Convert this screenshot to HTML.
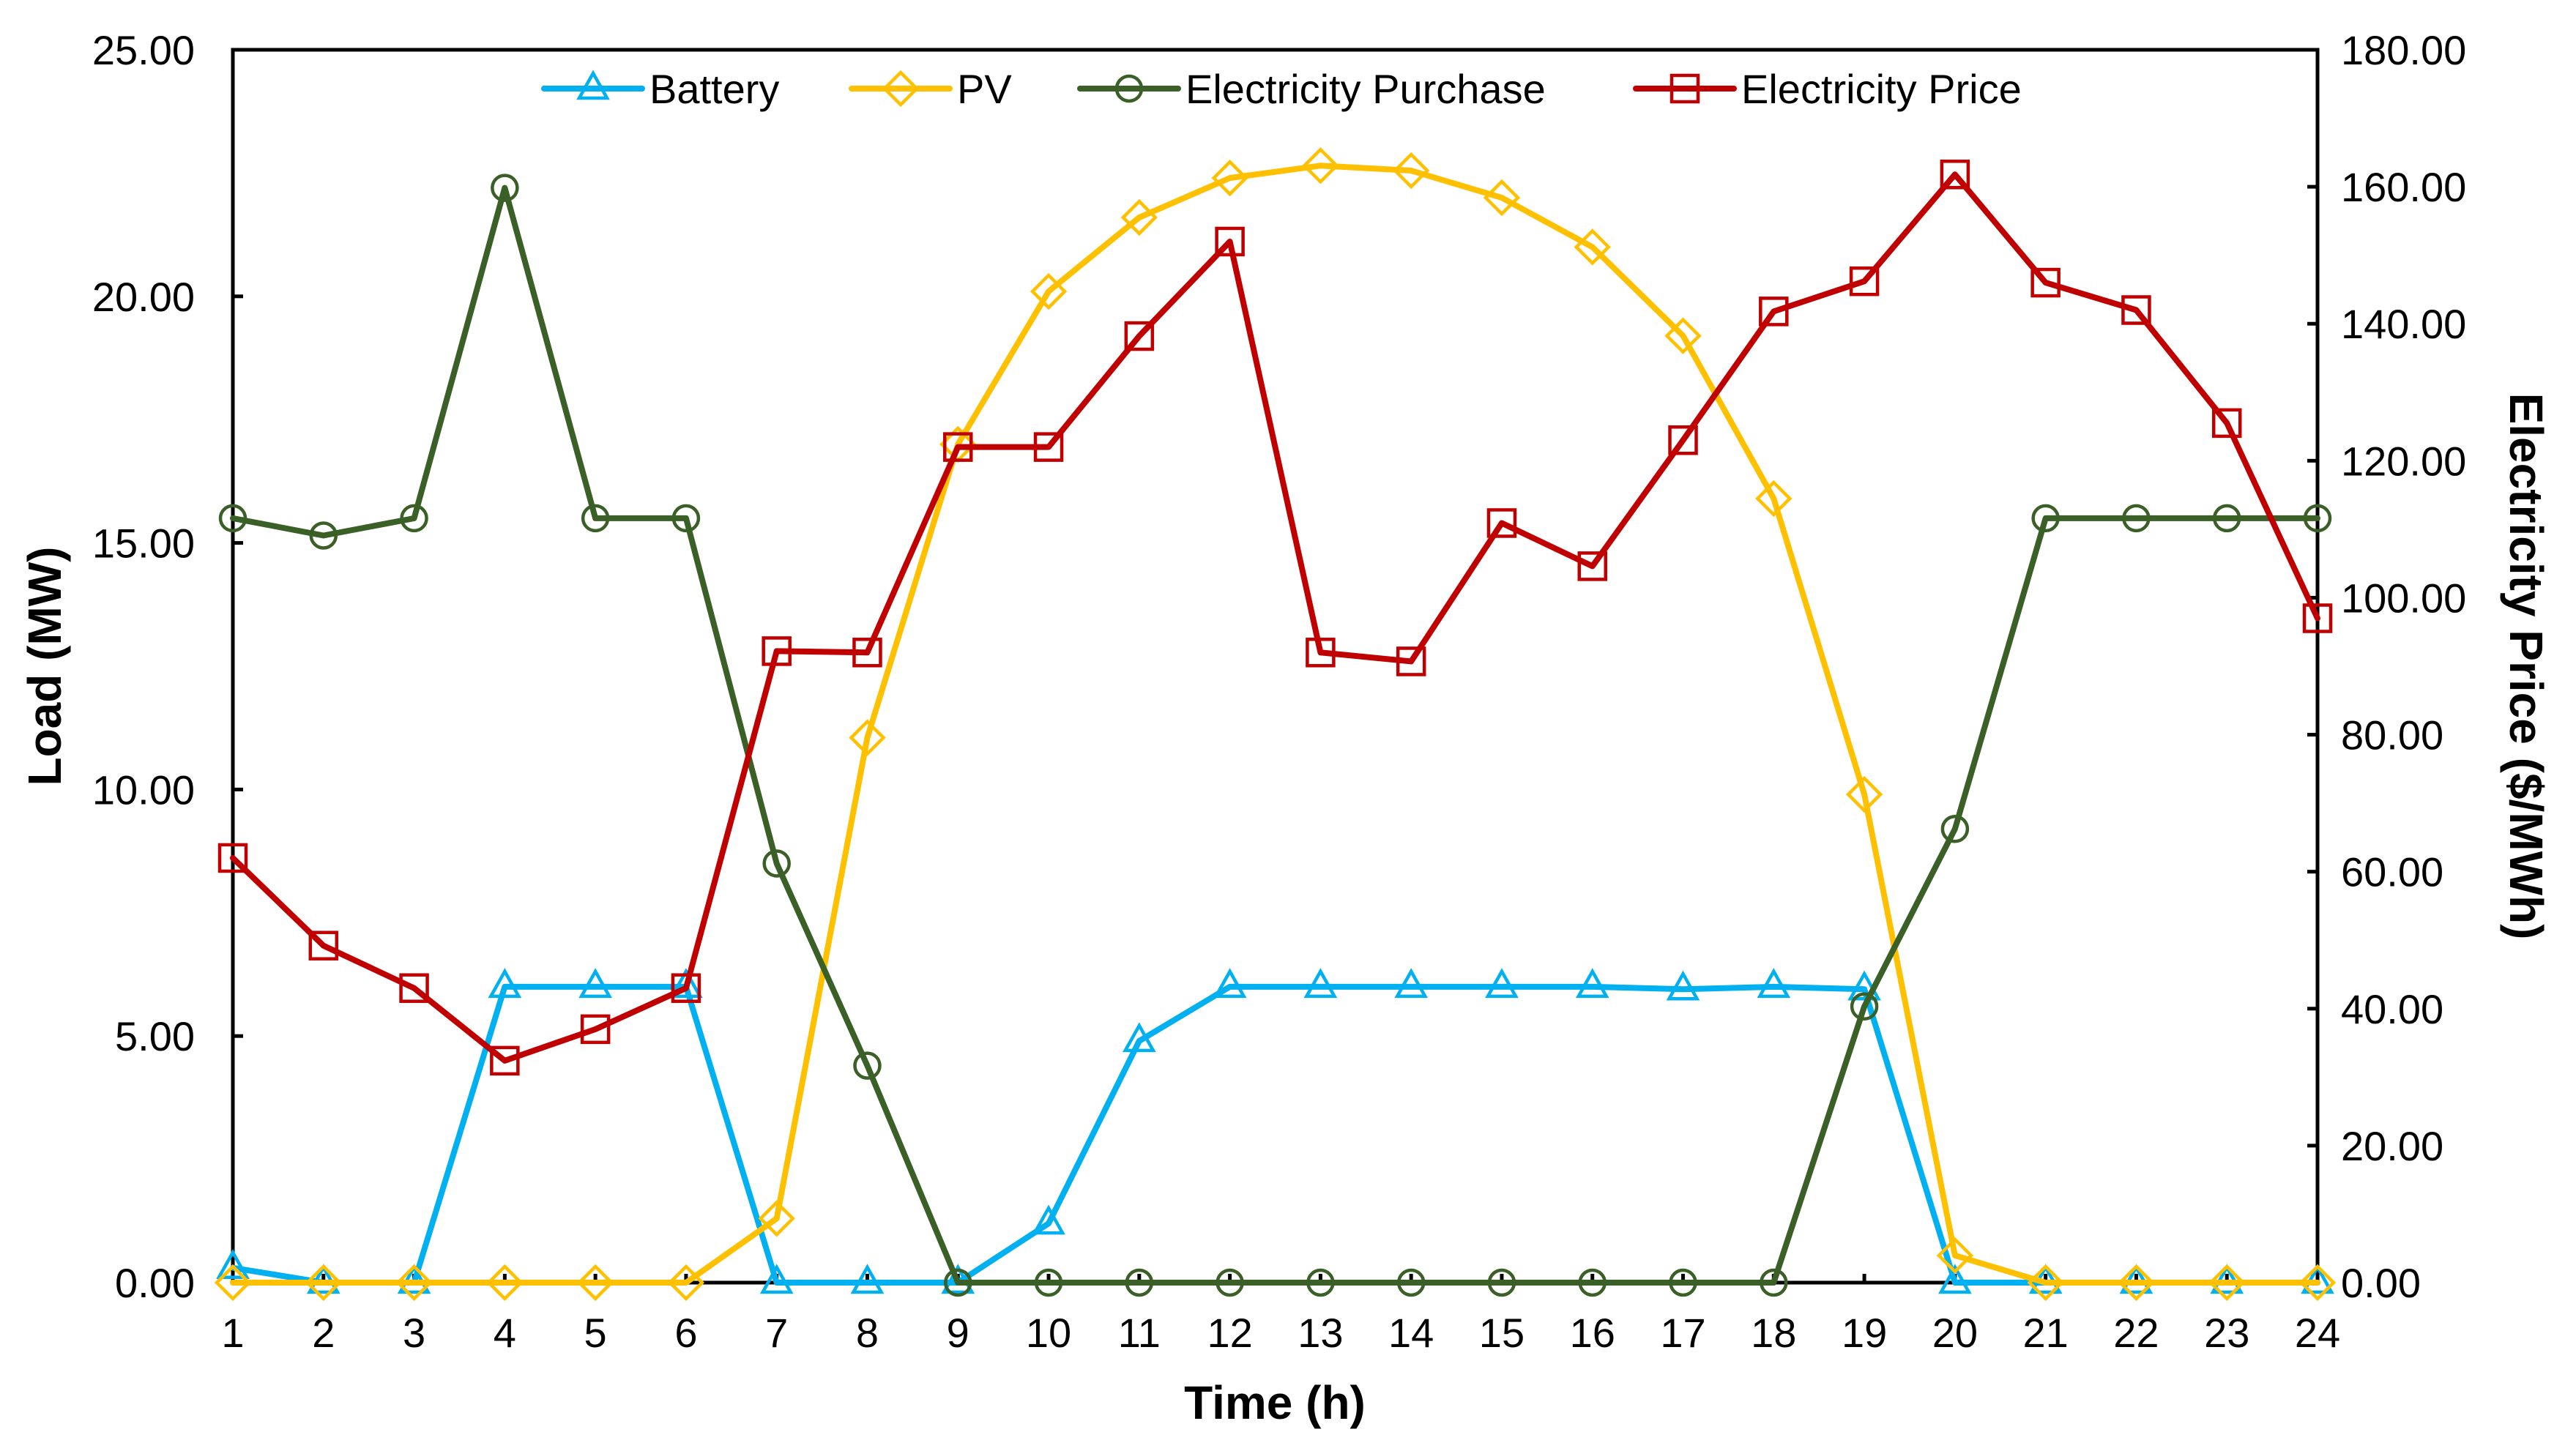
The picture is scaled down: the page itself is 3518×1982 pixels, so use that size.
<!DOCTYPE html>
<html><head><meta charset="utf-8"><style>
html,body{margin:0;padding:0;background:#fff}
svg{display:block}
text{font-family:"Liberation Sans",Arial,sans-serif}
</style></head><body>
<svg id="chart" width="3518" height="1982" viewBox="0 0 3518 1982" xmlns="http://www.w3.org/2000/svg"></svg>
<script>
const hours=[1,2,3,4,5,6,7,8,9,10,11,12,13,14,15,16,17,18,19,20,21,22,23,24];
const battery=[0.3,0,0,6,6,6,0,0,0,1.2,4.9,6,6,6,6,6,5.95,6,5.95,0,0,0,0,0];
const pv=[0,0,0,0,0,0,1.3,11.05,17,20.1,21.6,22.4,22.65,22.55,22.0,21.0,19.2,15.9,9.9,0.55,0,0,0,0];
const purchase=[15.5,15.15,15.5,22.2,15.5,15.5,8.5,4.4,0,0,0,0,0,0,0,0,0,0,5.6,9.2,15.5,15.5,15.5,15.5];
const price=[62,49.2,43,32.4,37,43,92.2,92,122,122,138.2,152,92,90.7,110.9,104.6,123,141.8,146.2,161.8,146,142,125.5,97];
const leftTicks=[0,5,10,15,20,25];
const rightTicks=[0,20,40,60,80,100,120,140,160,180];

const L=318,R=3165,T=68,B=1752;
const svg=document.getElementById('chart');
const NS='http://www.w3.org/2000/svg';
function el(tag,attrs,parent){const e=document.createElementNS(NS,tag);for(const k in attrs)e.setAttribute(k,attrs[k]);(parent||svg).appendChild(e);return e;}
const xs=h=>L+(h-1)*(R-L)/23;
const yl=v=>B-v/25*(B-T);
const yr=v=>B-v/180*(B-T);

const frame=el('path',{d:`M${L},${T}H${R}V${B}H${L}Z`,fill:'none',stroke:'#000','stroke-width':5});


leftTicks.forEach(v=>{
  const t=el('line',{x1:L,x2:L+14,y1:yl(v),y2:yl(v),stroke:'#000','stroke-width':5});
  
  
  const tx=el('text',{x:266,y:yl(v)+20,'text-anchor':'end','font-size':56,fill:'#000'});
  tx.textContent=v.toFixed(2);
  
  
});
rightTicks.forEach(v=>{
  const t=el('line',{x1:R-14,x2:R,y1:yr(v),y2:yr(v),stroke:'#000','stroke-width':5});
  
  
  const tx=el('text',{x:3197,y:yr(v)+20,'text-anchor':'start','font-size':56,fill:'#000'});
  tx.textContent=v.toFixed(2);
  
  
});
hours.forEach(h=>{
  const t=el('line',{x1:xs(h),x2:xs(h),y1:B-12,y2:B,stroke:'#000','stroke-width':5});
  
  
  const tx=el('text',{x:xs(h),y:1840,'text-anchor':'middle','font-size':56,fill:'#000'});
  tx.textContent=h;
  
  
});
let t1=el('text',{x:1741,y:1938,'text-anchor':'middle','font-size':64,'font-weight':'bold'});
t1.textContent='Time (h)';


let t2=el('text',{x:0,y:0,'text-anchor':'middle','font-size':64,'font-weight':'bold',transform:'translate(83,910) rotate(-90)'});
t2.textContent='Load (MW)';


let t3=el('text',{x:0,y:0,'text-anchor':'middle','font-size':64,'font-weight':'bold',transform:'translate(3428,910) rotate(90)'});
t3.textContent='Electricity Price ($/MWh)';



function marker(type,x,y,color,g){
  if(type==='tri') return el('path',{d:`M${x},${y-21}L${x+19},${y+13}L${x-19},${y+13}Z`,fill:'none',stroke:color,'stroke-width':4.5},g);
  if(type==='dia') return el('path',{d:`M${x},${y-22}L${x+22},${y}L${x},${y+22}L${x-22},${y}Z`,fill:'none',stroke:color,'stroke-width':4.5},g);
  if(type==='cir') return el('circle',{cx:x,cy:y,r:17,fill:'none',stroke:color,'stroke-width':4.5},g);
  return el('rect',{x:x-18,y:y-18,width:36,height:36,fill:'none',stroke:color,'stroke-width':4.5},g);
}
const series=[
  {name:'battery',vals:battery,color:'#00B0F0',m:'tri',ax:yl},
  {name:'pv',vals:pv,color:'#FFC000',m:'dia',ax:yl},
  {name:'electricity-purchase',vals:purchase,color:'#3A5F27',m:'cir',ax:yl},
  {name:'electricity-price',vals:price,color:'#C00000',m:'sq',ax:yr}
];
series.forEach(s=>{
  const g=el('g',{});
  
  
  const pts=s.vals.map((v,i)=>xs(hours[i])+','+s.ax(v)).join(' ');
  const pl=el('polyline',{points:pts,fill:'none',stroke:s.color,'stroke-width':8,'stroke-linejoin':'round','stroke-linecap':'round'},g);
  
  
  s.vals.forEach((v,i)=>{
    const m=marker(s.m,xs(hours[i]),s.ax(v),s.color,g);
    
    
  });
});
const leg=[['Battery',743,'tri','#00B0F0'],['PV',1163,'dia','#FFC000'],['Electricity Purchase',1475,'cir','#3A5F27'],['Electricity Price',2234,'sq','#C00000']];
leg.forEach(l=>{
  const g=el('g',{});
  
  
  el('line',{x1:l[1],x2:l[1]+134,y1:121,y2:121,stroke:l[3],'stroke-width':8,'stroke-linecap':'round'},g);
  marker(l[2],l[1]+67,121,l[3],g);
  const tx=el('text',{x:l[1]+144,y:141,'font-size':56},g);
  tx.textContent=l[0];
});
</script>
</body></html>
